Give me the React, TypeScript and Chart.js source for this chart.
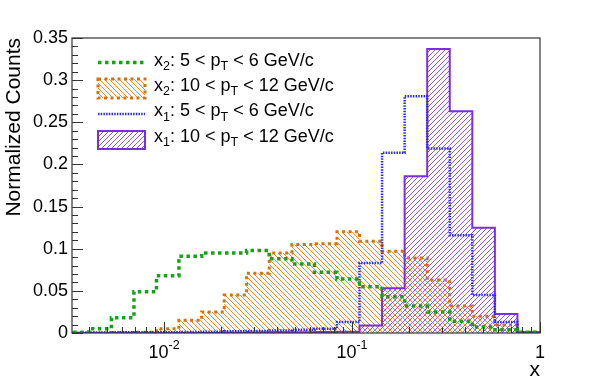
import React, { useEffect, useRef } from 'react';
import { Chart, registerables } from 'chart.js';

Chart.register(...registerables);

// ---------- data ----------
const binEdges = [
  0.00302, 0.00398, 0.00525, 0.00692, 0.00912, 0.012, 0.01585, 0.0209, 0.0275, 0.0363, 0.0479,
  0.0631, 0.0832, 0.1096, 0.1445, 0.1905, 0.2512, 0.3311, 0.4365, 0.5754, 0.7586, 1.0,
];

const x2Pt5to6 = [
  0.001, 0.005, 0.018, 0.049, 0.068, 0.091, 0.095, 0.095, 0.098, 0.088, 0.082,
  0.072, 0.064, 0.055, 0.043, 0.032, 0.025, 0.014, 0.007, 0.004, 0.001,
];
const x2Pt10to12 = [
  0.0, 0.0, 0.0005, 0.001, 0.005, 0.015, 0.025, 0.045, 0.071, 0.095, 0.105,
  0.106, 0.12, 0.109, 0.097, 0.089, 0.063, 0.032, 0.02, 0.0095, 0.001,
];
const x1Pt5to6 = [
  0.0003, 0.0005, 0.0008, 0.001, 0.001, 0.0012, 0.0015, 0.002, 0.0025, 0.003, 0.004,
  0.005, 0.013, 0.083, 0.214, 0.281, 0.219, 0.116, 0.045, 0.013, 0.001,
];
const x1Pt10to12 = [
  0.0001, 0.0001, 0.0001, 0.0001, 0.0001, 0.0001, 0.0001, 0.0003, 0.0005, 0.0008, 0.001,
  0.0012, 0.0015, 0.009, 0.053, 0.186, 0.337, 0.263, 0.125, 0.0225, 0.001,
];

const yMin = 0;
const yMax = 0.35;
const yStep = 0.05;
const yMinorStep = 0.01;
const xMin = 0.00324;
const xMax = 1;
const xMajorTicks = [0.01, 0.1, 1];
const xMajorBase = ['10', '10', '1'];
const xMajorExp = ['-2', '-1', ''];
const xMinorTicks = [
  0.004, 0.005, 0.006, 0.007, 0.008, 0.009,
  0.02, 0.03, 0.04, 0.05, 0.06, 0.07, 0.08, 0.09,
  0.2, 0.3, 0.4, 0.5, 0.6, 0.7, 0.8, 0.9,
];
const yTitle = 'Normalized Counts';
const xTitle = 'x';

type Part = { t: string; sub?: boolean };
const legendLabels: Part[][] = [
  [{ t: 'x' }, { t: '2', sub: true }, { t: ': 5 < p' }, { t: 'T', sub: true }, { t: ' < 6 GeV/c' }],
  [{ t: 'x' }, { t: '2', sub: true }, { t: ': 10 < p' }, { t: 'T', sub: true }, { t: ' < 12 GeV/c' }],
  [{ t: 'x' }, { t: '1', sub: true }, { t: ': 5 < p' }, { t: 'T', sub: true }, { t: ' < 6 GeV/c' }],
  [{ t: 'x' }, { t: '1', sub: true }, { t: ': 10 < p' }, { t: 'T', sub: true }, { t: ' < 12 GeV/c' }],
];

// ---------- styles ----------
const FONT = '"Liberation Sans", Arial, Helvetica, sans-serif';
const green = '#19a019';
const orangeLine = '#d8700c';
const orangeHatch = '#f08c36';
const blue = '#2a2aff';
const purple = '#7a2ee0';
const purpleHatch = '#9356ee';

function toSteps(values: number[]) {
  return binEdges.map((e, i) => ({ x: e, y: i < values.length ? values[i] : 0 }));
}

export default function App() {
  const ref = useRef<HTMLCanvasElement>(null);

  useEffect(() => {
    const canvas = ref.current!;
    const mainCtx = canvas.getContext('2d')!;

    const mkHatch = (color: string, dir: '/' | '\\') => {
      const s = 5;
      const c = document.createElement('canvas');
      c.width = s;
      c.height = s;
      const g = c.getContext('2d')!;
      g.strokeStyle = color;
      g.lineWidth = 1;
      g.beginPath();
      if (dir === '/') {
        g.moveTo(-1, s + 1); g.lineTo(s + 1, -1);
        g.moveTo(-1, 1); g.lineTo(1, -1);
        g.moveTo(s - 1, s + 1); g.lineTo(s + 1, s - 1);
      } else {
        g.moveTo(-1, -1); g.lineTo(s + 1, s + 1);
        g.moveTo(s - 1, -1); g.lineTo(s + 1, 1);
        g.moveTo(-1, s - 1); g.lineTo(1, s + 1);
      }
      g.stroke();
      return mainCtx.createPattern(c, 'repeat')!;
    };
    const orangePattern = mkHatch(orangeHatch, '\\');
    const purplePattern = mkHatch(purpleHatch, '/');

    const greenDash = [3.5, 3.5];
    const orangeDash = [3, 3.5];
    const blueDash = [1.5, 1.2];

    const decor = {
      id: 'rootDecor',
      afterDraw(chart: any) {
        const ctx = chart.ctx as CanvasRenderingContext2D;
        const { left, right, top, bottom } = chart.chartArea;
        const xs = chart.scales.x;
        const ys = chart.scales.y;
        ctx.save();
        // frame
        ctx.strokeStyle = '#333';
        ctx.lineWidth = 1.2;
        ctx.setLineDash([]);
        ctx.strokeRect(left, top, right - left, bottom - top);
        // y ticks
        ctx.lineWidth = 1;
        ctx.beginPath();
        for (let v = yMin; v <= yMax + 1e-9; v += yMinorStep) {
          const py = Math.round(ys.getPixelForValue(v)) + 0.5;
          const major = Math.abs(v / yStep - Math.round(v / yStep)) < 1e-6;
          ctx.moveTo(left, py);
          ctx.lineTo(left + (major ? 11 : 6), py);
        }
        // x ticks
        for (const v of xMajorTicks) {
          const px = Math.round(xs.getPixelForValue(v)) + 0.5;
          ctx.moveTo(px, bottom);
          ctx.lineTo(px, bottom - 11);
        }
        for (const v of xMinorTicks) {
          const px = Math.round(xs.getPixelForValue(v)) + 0.5;
          ctx.moveTo(px, bottom);
          ctx.lineTo(px, bottom - 6);
        }
        ctx.stroke();

        // x labels with superscripts
        ctx.fillStyle = '#000';
        ctx.textBaseline = 'alphabetic';
        ctx.textAlign = 'left';
        xMajorTicks.forEach((v, i) => {
          const px = xs.getPixelForValue(v);
          ctx.font = `18px ${FONT}`;
          const wb = ctx.measureText(xMajorBase[i]).width;
          ctx.font = `12.5px ${FONT}`;
          const we = xMajorExp[i] ? ctx.measureText(xMajorExp[i]).width : 0;
          const x0 = px - (wb + we) / 2;
          ctx.font = `18px ${FONT}`;
          ctx.fillText(xMajorBase[i], x0, 357.5);
          if (xMajorExp[i]) {
            ctx.font = `12.5px ${FONT}`;
            ctx.fillText(xMajorExp[i], x0 + wb, 349);
          }
        });

        // legend
        const symL = 98;
        const symR = 145;
        const rowC = [62.5, 88.5, 114, 140];
        const rowBase = [65.5, 90.8, 116.2, 141.5];
        // green line
        ctx.strokeStyle = green;
        ctx.lineWidth = 3.5;
        ctx.setLineDash(greenDash);
        ctx.beginPath();
        ctx.moveTo(symL, rowC[0]);
        ctx.lineTo(symR, rowC[0]);
        ctx.stroke();
        // orange box
        ctx.setLineDash([]);
        ctx.fillStyle = orangePattern;
        ctx.fillRect(symL, rowC[1] - 9.5, symR - symL, 19);
        ctx.strokeStyle = orangeLine;
        ctx.lineWidth = 3;
        ctx.setLineDash(orangeDash);
        ctx.strokeRect(symL, rowC[1] - 9.5, symR - symL, 19);
        // blue line
        ctx.strokeStyle = blue;
        ctx.lineWidth = 2.5;
        ctx.setLineDash(blueDash);
        ctx.beginPath();
        ctx.moveTo(symL, rowC[2]);
        ctx.lineTo(symR, rowC[2]);
        ctx.stroke();
        // purple box
        ctx.setLineDash([]);
        ctx.fillStyle = purplePattern;
        ctx.fillRect(symL, rowC[3] - 9, symR - symL, 18);
        ctx.strokeStyle = purple;
        ctx.lineWidth = 2;
        ctx.strokeRect(symL, rowC[3] - 9, symR - symL, 18);

        // legend text
        ctx.fillStyle = '#000';
        legendLabels.forEach((parts, r) => {
          let cx = 154;
          for (const p of parts) {
            ctx.font = `${p.sub ? 12.5 : 18}px ${FONT}`;
            ctx.fillText(p.t, cx, p.sub ? rowBase[r] + 4.5 : rowBase[r]);
            cx += ctx.measureText(p.t).width;
          }
        });
        ctx.restore();
      },
    };

    const common = {
      pointRadius: 0,
      pointHoverRadius: 0,
      stepped: 'before' as const,
      tension: 0,
      borderCapStyle: 'butt' as const,
      borderJoinStyle: 'miter' as const,
    };

    const chart = new Chart(canvas, {
      type: 'line',
      data: {
        datasets: [
          {
            ...common,
            label: 'x2 5-6',
            data: toSteps(x2Pt5to6),
            borderColor: green,
            borderWidth: 3.5,
            borderDash: greenDash,
            fill: false,
            order: 0,
          },
          {
            ...common,
            label: 'x1 5-6',
            data: toSteps(x1Pt5to6),
            borderColor: blue,
            borderWidth: 2.5,
            borderDash: blueDash,
            fill: false,
            order: 1,
          },
          {
            ...common,
            label: 'x1 10-12',
            data: toSteps(x1Pt10to12),
            borderColor: purple,
            borderWidth: 2,
            backgroundColor: purplePattern,
            fill: 'origin',
            order: 2,
          },
          {
            ...common,
            label: 'x2 10-12',
            data: toSteps(x2Pt10to12),
            borderColor: orangeLine,
            borderWidth: 3,
            borderDash: orangeDash,
            backgroundColor: orangePattern,
            fill: 'origin',
            order: 3,
          },
        ],
      },
      options: {
        animation: false,
        responsive: false,
        devicePixelRatio: 1,
        layout: { padding: { left: 0, top: 38, right: 60, bottom: 0 } },
        plugins: {
          legend: { display: false },
          tooltip: { enabled: false },
        },
        scales: {
          x: {
            type: 'logarithmic',
            min: xMin,
            max: xMax,
            grid: { display: false, drawTicks: false },
            border: { display: false },
            ticks: { display: false },
            title: {
              display: true,
              text: xTitle,
              align: 'end',
              color: '#000',
              font: { size: 21, family: FONT },
              padding: { top: 2, bottom: 0 },
            },
            afterFit: (s: any) => {
              s.height = 50;
            },
          },
          y: {
            min: yMin,
            max: yMax,
            grid: { display: false, drawTicks: false },
            border: { display: false },
            ticks: {
              stepSize: yStep,
              padding: 4,
              color: '#000',
              font: { size: 18, family: FONT },
              callback: (v: any) => String(Number(Number(v).toFixed(2))),
            },
            title: {
              display: true,
              text: yTitle,
              align: 'end',
              color: '#000',
              font: { size: 21, family: FONT },
              padding: { top: 2, bottom: 0 },
            },
            afterFit: (s: any) => {
              s.width = 72;
            },
          },
        },
      },
      plugins: [decor],
    } as any);

    return () => chart.destroy();
  }, []);

  return (
    <div style={{ position: 'fixed', left: 0, top: 0, width: 600, height: 383, background: '#fff' }}>
      <canvas ref={ref} width={600} height={383} style={{ display: 'block' }} />
    </div>
  );
}
